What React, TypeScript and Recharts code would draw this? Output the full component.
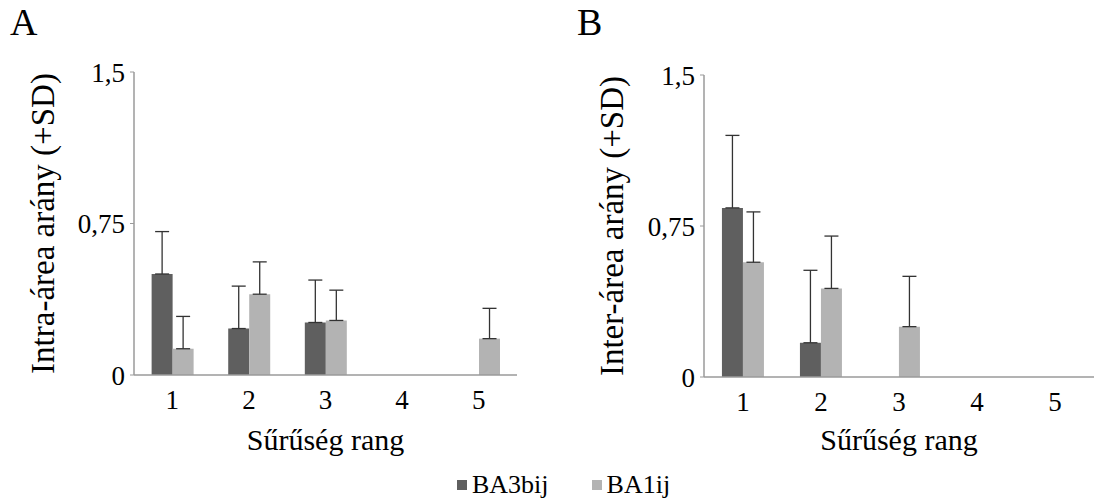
import React from "react";
import { BarChart, Bar, XAxis, YAxis, ErrorBar } from "recharts";

const FONT = '"Liberation Serif", "DejaVu Serif Condensed", "DejaVu Serif", serif';

const ranks = ["1", "2", "3", "4", "5"];
const yTicks = [0, 0.75, 1.5];

// A – intra-área arány
const intraBA3 = [0.5, 0.23, 0.26, 0, 0];
const intraBA3Sd = [0.21, 0.21, 0.21, null, null];
const intraBA1 = [0.13, 0.4, 0.27, 0, 0.18];
const intraBA1Sd = [0.16, 0.16, 0.15, null, 0.15];

// B – inter-área arány
const interBA3 = [0.84, 0.17, 0, 0, 0];
const interBA3Sd = [0.36, 0.36, null, null, null];
const interBA1 = [0.57, 0.44, 0.25, 0, 0];
const interBA1Sd = [0.25, 0.26, 0.25, null, null];

const DARK = "#5f5f5f";
const LIGHT = "#b3b3b3";
const AXIS = "#9a9a9a";

type Row = {
  rank: string;
  ba3: number;
  ba3Err: number[] | null;
  ba1: number;
  ba1Err: number[] | null;
};

const buildRows = (
  ba3: number[],
  ba3Sd: (number | null)[],
  ba1: number[],
  ba1Sd: (number | null)[]
): Row[] =>
  ranks.map((rank, i) => ({
    rank,
    ba3: ba3[i],
    ba3Err: ba3Sd[i] == null ? null : [0, ba3Sd[i] as number],
    ba1: ba1[i],
    ba1Err: ba1Sd[i] == null ? null : [0, ba1Sd[i] as number],
  }));

const intraRows = buildRows(intraBA3, intraBA3Sd, intraBA1, intraBA1Sd);
const interRows = buildRows(interBA3, interBA3Sd, interBA1, interBA1Sd);

const fmt = (v: number) => String(v).replace(".", ",");

type PanelProps = {
  data: Row[];
  yLabel: string;
  width: number;
  margin: { top: number; right: number; bottom: number; left: number };
  yAxisWidth: number;
  labelDx: number;
  xAxisHeight: number;
};

const Panel: React.FC<PanelProps> = ({
  data,
  yLabel,
  width,
  margin,
  yAxisWidth,
  labelDx,
  xAxisHeight,
}) => (
  <BarChart
    width={width}
    height={501}
    data={data}
    margin={margin}
    barCategoryGap="23%"
    barGap={0}
  >
    <XAxis
      dataKey="rank"
      height={xAxisHeight}
      axisLine={{ stroke: AXIS, strokeWidth: 1.5 }}
      tickLine={false}
      tickSize={6}
      tickMargin={9}
      tick={{ fontSize: 27, fill: "#000", fontFamily: FONT }}
      label={{
        value: "Sűrűség rang",
        position: "insideBottom",
        offset: 5,
        style: { fontSize: 30, fill: "#000", fontFamily: FONT },
      }}
    />
    <YAxis
      domain={[0, 1.5]}
      ticks={yTicks}
      interval={0}
      width={yAxisWidth}
      axisLine={{ stroke: AXIS, strokeWidth: 1.5 }}
      tickLine={{ stroke: AXIS }}
      tickSize={4}
      tickMargin={5}
      tickFormatter={fmt}
      tick={{ fontSize: 27, fill: "#000", fontFamily: FONT }}
      label={{
        value: yLabel,
        angle: -90,
        position: "center",
        dx: labelDx,
        style: { fontSize: 33, fill: "#000", fontFamily: FONT },
      }}
    />
    <Bar dataKey="ba3" name="BA3bij" fill={DARK} isAnimationActive={false}>
      <ErrorBar dataKey="ba3Err" width={7} stroke="#333" strokeWidth={1.3} />
    </Bar>
    <Bar dataKey="ba1" name="BA1ij" fill={LIGHT} isAnimationActive={false}>
      <ErrorBar dataKey="ba1Err" width={7} stroke="#333" strokeWidth={1.3} />
    </Bar>
  </BarChart>
);

const letterStyle: React.CSSProperties = {
  position: "absolute",
  top: 0,
  fontSize: 38,
  fontFamily: FONT,
  lineHeight: "44px",
};

const legendText: React.CSSProperties = {
  fontSize: 26,
  fontFamily: FONT,
  color: "#000",
  marginLeft: 5,
};

export default function App() {
  return (
    <div
      style={{
        position: "absolute",
        left: 0,
        top: 0,
        width: 1113,
        height: 501,
        background: "#fff",
        overflow: "hidden",
      }}
    >
      <div style={{ position: "absolute", left: 0, top: 0 }}>
        <Panel
          data={intraRows}
          yLabel="Intra-área arány (+SD)"
          width={560}
          margin={{ top: 72, right: 43, bottom: 46, left: 0 }}
          yAxisWidth={134}
          labelDx={-25}
          xAxisHeight={80}
        />
      </div>
      <div style={{ position: "absolute", left: 560, top: 0 }}>
        <Panel
          data={interRows}
          yLabel="Inter-área arány (+SD)"
          width={553}
          margin={{ top: 75, right: 19, bottom: 46, left: 0 }}
          yAxisWidth={144}
          labelDx={-21}
          xAxisHeight={78}
        />
      </div>
      <div style={{ ...letterStyle, left: 10 }}>A</div>
      <div style={{ ...letterStyle, left: 577 }}>B</div>
      <div
        style={{
          position: "absolute",
          left: 457,
          top: 470,
          display: "flex",
          alignItems: "center",
          lineHeight: "30px",
        }}
      >
        <span style={{ width: 10, height: 10, background: DARK, display: "inline-block" }} />
        <span style={legendText}>BA3bij</span>
        <span
          style={{
            width: 10,
            height: 10,
            background: LIGHT,
            display: "inline-block",
            marginLeft: 43,
          }}
        />
        <span style={legendText}>BA1ij</span>
      </div>
    </div>
  );
}
